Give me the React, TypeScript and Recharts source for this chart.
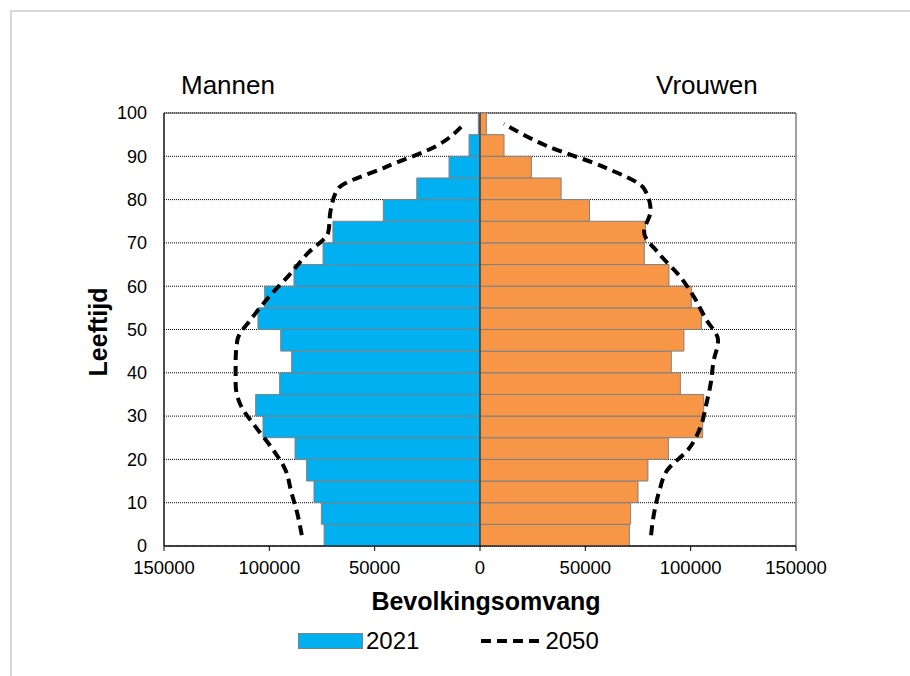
import {
  ComposedChart,
  Bar,
  Line,
  XAxis,
  YAxis,
  CartesianGrid,
  ReferenceLine,
  ReferenceArea,
} from 'recharts';

// midpoints of the 5-year age groups
const ages = [2.5, 7.5, 12.5, 17.5, 22.5, 27.5, 32.5, 37.5, 42.5, 47.5, 52.5, 57.5, 62.5, 67.5, 72.5, 77.5, 82.5, 87.5, 92.5, 97.5];

const men2021 = [74000, 75300, 78800, 82300, 87800, 103000, 106500, 95100, 89400, 94600, 105400, 102200, 88300, 74500, 69800, 45900, 30000, 14700, 5200, 800];
const women2021 = [70900, 71500, 75000, 79700, 89400, 105700, 106200, 95100, 90800, 96800, 105100, 100300, 89700, 78000, 78500, 52000, 38500, 24400, 11400, 3000];
const men2050 = [84600, 86700, 89600, 92300, 98600, 106500, 113600, 116000, 116000, 115200, 108500, 100200, 90700, 82000, 72000, 70900, 67400, 44800, 20300, 7600];
const women2050 = [81200, 82600, 85000, 88900, 99200, 104700, 107300, 109500, 110800, 113000, 107100, 101600, 94500, 85000, 77900, 81000, 77900, 58900, 31200, 11400];

const ageTicks = [0, 10, 20, 30, 40, 50, 60, 70, 80, 90, 100];
const popTicks = [-150000, -100000, -50000, 0, 50000, 100000, 150000];

const BLUE = '#00B0F0';
const ORANGE = '#F79646';

const chartData = ages.map((age, i) => ({
  age,
  men: -men2021[i],
  women: women2021[i],
  men2050: -men2050[i],
  women2050: women2050[i],
}));

const FONT = '"Liberation Sans", Arial, sans-serif';

export default function App() {
  return (
    <div style={{ position: 'absolute', left: 0, top: 0, width: 910, height: 676, overflow: 'hidden', background: '#fff', fontFamily: FONT }}>
      <div style={{ position: 'absolute', left: 10, top: 10, width: 920, height: 700, borderTop: '2px solid #d9d9d9', borderLeft: '2px solid #d9d9d9' }} />
      <ComposedChart
        width={910}
        height={676}
        data={chartData}
        layout="vertical"
        stackOffset="sign"
        margin={{ top: 113, right: 114, bottom: 100, left: 0 }}
        style={{ position: 'absolute', left: 0, top: 0 }}
      >
        <CartesianGrid horizontal vertical={false} stroke="#000" strokeDasharray="1 1" strokeWidth={1} />
        <XAxis
          type="number"
          domain={[-150000, 150000]}
          ticks={popTicks}
          tickFormatter={(v: number) => String(Math.abs(v))}
          tick={{ fill: '#000', fontSize: 18.5 }}
          tickSize={5}
          tickMargin={10}
          axisLine={{ stroke: '#000' }}
          tickLine={{ stroke: '#000' }}
          height={30}
          allowDataOverflow
        />
        <YAxis
          type="number"
          dataKey="age"
          domain={[0, 100]}
          ticks={ageTicks}
          reversed
          tick={{ fill: '#000', fontSize: 18 }}
          tickLine={false}
          tickSize={6}
          tickMargin={11}
          axisLine={{ stroke: '#000' }}
          width={164}
          allowDataOverflow
        />
        <Bar dataKey="men" stackId="a" fill={BLUE} stroke="#808080" strokeWidth={1} barSize={21.6} isAnimationActive={false} />
        <Bar dataKey="women" stackId="a" fill={ORANGE} stroke="#808080" strokeWidth={1} barSize={21.6} isAnimationActive={false} />
        <ReferenceArea x1={-150000} x2={150000} y1={0} y2={100} fill="none" stroke="#404040" strokeWidth={1} ifOverflow="visible" />
        <ReferenceLine x={0} stroke="#404040" strokeWidth={1.5} />
        <Line dataKey="men2050" type="monotone" stroke="#000" strokeWidth={4} strokeDasharray="10 6" dot={false} isAnimationActive={false} />
        <Line dataKey="women2050" type="monotone" stroke="#000" strokeWidth={4} strokeDasharray="10 6" dot={false} isAnimationActive={false} />
      </ComposedChart>

      <div style={{ position: 'absolute', left: 181, top: 70, fontSize: 26, color: '#000' }}>Mannen</div>
      <div style={{ position: 'absolute', left: 656, top: 70, fontSize: 26, color: '#000' }}>Vrouwen</div>
      <div
        style={{
          position: 'absolute',
          left: 98,
          top: 332,
          fontSize: 25,
          fontWeight: 'bold',
          color: '#000',
          transform: 'translate(-50%, -50%) rotate(-90deg)',
          whiteSpace: 'nowrap',
        }}
      >
        Leeftijd
      </div>
      <div style={{ position: 'absolute', left: 486, top: 587, fontSize: 25, fontWeight: 'bold', color: '#000', transform: 'translateX(-50%)', whiteSpace: 'nowrap' }}>
        Bevolkingsomvang
      </div>

      <div style={{ position: 'absolute', left: 298, top: 627, display: 'flex', alignItems: 'center', fontSize: 24, color: '#000' }}>
        <span style={{ display: 'inline-block', width: 63, height: 14, background: BLUE, border: '1px solid #808080', marginRight: 3 }} />
        <span>2021</span>
        <svg width={66} height={10} style={{ marginLeft: 60 }}>
          <line x1={2} y1={5} x2={64} y2={5} stroke="#000" strokeWidth={4} strokeDasharray="10 6" />
        </svg>
        <span>2050</span>
      </div>
    </div>
  );
}
